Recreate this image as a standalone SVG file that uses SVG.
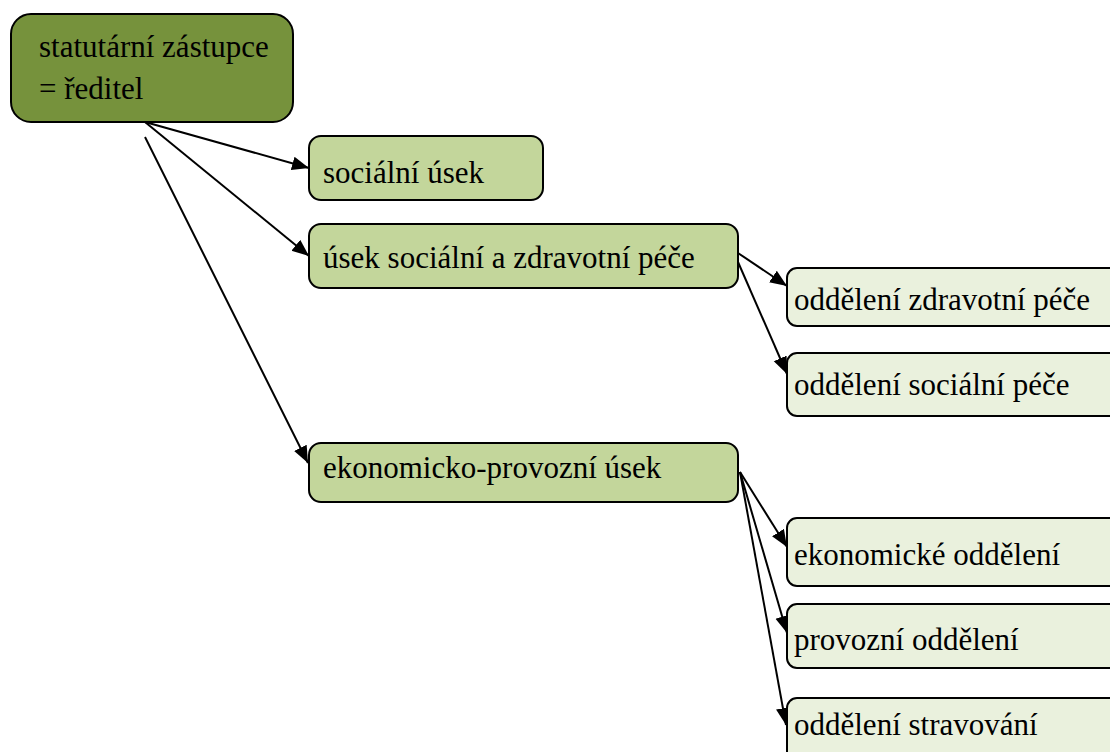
<svg xmlns="http://www.w3.org/2000/svg" width="1110" height="752" viewBox="0 0 1110 752">
<defs>
<marker id="ah" markerUnits="userSpaceOnUse" markerWidth="18" markerHeight="16" refX="17" refY="8" orient="auto">
<path d="M0,1 L17,8 L0,15 Z" fill="#000"/>
</marker>
</defs>
<rect width="1110" height="752" fill="#fff"/>
<g id="edges" stroke="#000" stroke-width="2" fill="none">
<line x1="145" y1="122" x2="309" y2="168" marker-end="url(#ah)"/>
<line x1="145" y1="122" x2="309" y2="256" marker-end="url(#ah)"/>
<line x1="145" y1="137" x2="308" y2="463" marker-end="url(#ah)"/>
<line x1="738" y1="253" x2="787" y2="286" marker-end="url(#ah)"/>
<line x1="738" y1="262" x2="787" y2="374" marker-end="url(#ah)"/>
<line x1="740" y1="472" x2="787" y2="547" marker-end="url(#ah)"/>
<line x1="740" y1="472" x2="787" y2="633" marker-end="url(#ah)"/>
<line x1="740" y1="472" x2="786" y2="725" marker-end="url(#ah)"/>
</g>
<g id="root">
<rect x="11" y="14" width="282" height="108" rx="20" fill="#76923C" stroke="#000" stroke-width="2"/>
<text x="39" y="57" style="font-family:'Liberation Serif';font-size:31px">statutární zástupce</text>
<text x="39" y="99" style="font-family:'Liberation Serif';font-size:31px">= ředitel</text>
</g>
<g id="socialni-usek">
<rect x="309" y="136" width="234" height="64" rx="12" fill="#C3D69B" stroke="#000" stroke-width="2"/>
<text x="323" y="183" style="font-family:'Liberation Serif';font-size:31px">sociální úsek</text>
</g>
<g id="usek-szp">
<rect x="309" y="224" width="429" height="64" rx="12" fill="#C3D69B" stroke="#000" stroke-width="2"/>
<text x="323" y="268" style="font-family:'Liberation Serif';font-size:31px">úsek sociální a zdravotní péče</text>
</g>
<g id="ekon-prov-usek">
<rect x="309" y="443" width="429" height="59" rx="12" fill="#C3D69B" stroke="#000" stroke-width="2"/>
<text x="323" y="478" style="font-family:'Liberation Serif';font-size:31px">ekonomicko-provozní úsek</text>
</g>
<g id="odd-zdrav">
<rect x="787" y="268" width="340" height="58" rx="10" fill="#EAF1DD" stroke="#000" stroke-width="2"/>
<text x="794" y="310" style="font-family:'Liberation Serif';font-size:31px">oddělení zdravotní péče</text>
</g>
<g id="odd-soc">
<rect x="787" y="353" width="340" height="63" rx="10" fill="#EAF1DD" stroke="#000" stroke-width="2"/>
<text x="794" y="395" style="font-family:'Liberation Serif';font-size:31px">oddělení sociální péče</text>
</g>
<g id="odd-ekon">
<rect x="787" y="518" width="340" height="68" rx="10" fill="#EAF1DD" stroke="#000" stroke-width="2"/>
<text x="794" y="565" style="font-family:'Liberation Serif';font-size:31px">ekonomické oddělení</text>
</g>
<g id="odd-prov">
<rect x="787" y="604" width="340" height="64" rx="10" fill="#EAF1DD" stroke="#000" stroke-width="2"/>
<text x="794" y="650" style="font-family:'Liberation Serif';font-size:31px">provozní oddělení</text>
</g>
<g id="odd-strav">
<rect x="787" y="698" width="340" height="80" rx="10" fill="#EAF1DD" stroke="#000" stroke-width="2"/>
<text x="794" y="735" style="font-family:'Liberation Serif';font-size:31px">oddělení stravování</text>
</g>
</svg>
